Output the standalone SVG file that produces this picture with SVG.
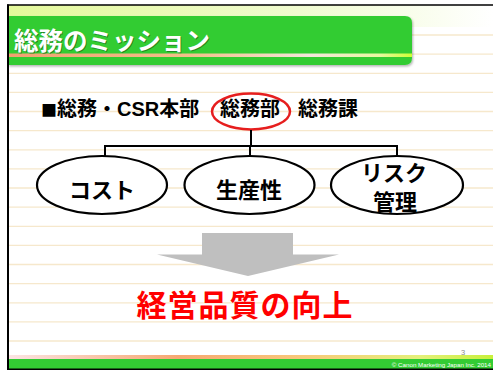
<svg xmlns="http://www.w3.org/2000/svg" width="493" height="370" viewBox="0 0 493 370">
  <defs>
    <linearGradient id="topBand" x1="0" y1="0" x2="1" y2="0">
      <stop offset="0" stop-color="#e4f99a"/>
      <stop offset="0.6" stop-color="#f0fbd0"/>
      <stop offset="1" stop-color="#ffffff"/>
    </linearGradient>
    <linearGradient id="titleStripe" x1="0" y1="0" x2="1" y2="0">
      <stop offset="0" stop-color="#f2a070"/>
      <stop offset="0.45" stop-color="#f3c08a"/>
      <stop offset="0.75" stop-color="#f4e6dc"/>
      <stop offset="0.92" stop-color="#e8f8a0"/>
      <stop offset="1" stop-color="#ccff33"/>
    </linearGradient>
    <linearGradient id="footStripe" x1="0" y1="0" x2="1" y2="0">
      <stop offset="0" stop-color="#fbe4e4"/>
      <stop offset="0.35" stop-color="#f6a872"/>
      <stop offset="0.6" stop-color="#f8c77a"/>
      <stop offset="0.85" stop-color="#e4f07a"/>
      <stop offset="1" stop-color="#c8f03a"/>
    </linearGradient>
    <filter id="shadow" x="-5%" y="-20%" width="110%" height="150%">
      <feDropShadow dx="1" dy="1.5" stdDeviation="1" flood-color="#000" flood-opacity="0.3"/>
    </filter>
  </defs>
  <style>
    .rule { stroke: #f6e8cc; stroke-width: 1.3; }
    .jp { font-family: "Noto Sans CJK JP", "Liberation Sans", sans-serif; font-weight: bold; }
    .lat { font-family: "Liberation Sans", "Noto Sans CJK JP", sans-serif; font-weight: bold; }
    .node { fill: #ffffff; stroke: #000000; stroke-width: 2.2; }
    .conn { fill: none; stroke: #000000; stroke-width: 2; }
    .lbl { font-size: 22px; fill: #000000; text-anchor: middle; }
  </style>

  <rect x="0" y="0" width="493" height="370" fill="#ffffff"/>

  <!-- ruled lines -->
  <g id="rules">
    <line class="rule" x1="9" y1="35" x2="493" y2="35"/>
    <line class="rule" x1="9" y1="54.1" x2="493" y2="54.1"/>
    <line class="rule" x1="9" y1="73.3" x2="493" y2="73.3"/>
    <line class="rule" x1="9" y1="92.4" x2="493" y2="92.4"/>
    <line class="rule" x1="9" y1="111.5" x2="493" y2="111.5"/>
    <line class="rule" x1="9" y1="130.6" x2="493" y2="130.6"/>
    <line class="rule" x1="9" y1="149.8" x2="493" y2="149.8"/>
    <line class="rule" x1="9" y1="168.9" x2="493" y2="168.9"/>
    <line class="rule" x1="9" y1="188" x2="493" y2="188"/>
    <line class="rule" x1="9" y1="207.1" x2="493" y2="207.1"/>
    <line class="rule" x1="9" y1="226.3" x2="493" y2="226.3"/>
    <line class="rule" x1="9" y1="245.4" x2="493" y2="245.4"/>
    <line class="rule" x1="9" y1="264.5" x2="493" y2="264.5"/>
    <line class="rule" x1="9" y1="283.6" x2="493" y2="283.6"/>
    <line class="rule" x1="9" y1="302.8" x2="493" y2="302.8"/>
    <line class="rule" x1="9" y1="321.9" x2="493" y2="321.9"/>
    <line class="rule" x1="9" y1="341" x2="493" y2="341"/>
  </g>

  <!-- header -->
  <g id="title">
    <rect x="8" y="5" width="485" height="22" fill="url(#topBand)"/>
    <path d="M8 16 H405 Q412 16 412 23 V58 Q412 65 405 65 H8 Z" fill="#33cc33" filter="url(#shadow)"/>
    <rect x="8" y="53.5" width="404" height="3.5" fill="url(#titleStripe)"/>
    <text x="15" y="51" class="jp" font-size="24.5" fill="#1a5a1a" opacity="0.6">総務のミッション</text>
    <text x="14" y="50" class="jp" font-size="24.5" fill="#ffffff">総務のミッション</text>
  </g>

  <!-- organisation line -->
  <g id="org">
    <text x="41" y="116" class="jp" font-size="20" fill="#000"><tspan font-size="16">■</tspan><tspan>総務・</tspan><tspan class="lat">CSR</tspan><tspan>本部</tspan></text>
    <text x="298" y="116" class="jp" font-size="20" fill="#000">総務課</text>
  </g>
  <g id="soumubu">
    <text x="220" y="116" class="jp" font-size="20" fill="#000">総務部</text>
    <ellipse cx="251" cy="111.5" rx="39" ry="18" fill="none" stroke="#e61e1e" stroke-width="2.5"/>
  </g>

  <!-- connectors -->
  <g id="connectors">
    <path class="conn" d="M251 130 V146"/>
    <path class="conn" d="M105 157 V146 H397 V157"/>
    <path class="conn" d="M250 146 V157"/>
  </g>

  <!-- nodes -->
  <g id="cost">
    <ellipse class="node" cx="102" cy="185" rx="65" ry="29"/>
    <text x="102" y="198" class="jp lbl">コスト</text>
  </g>
  <g id="productivity">
    <ellipse class="node" cx="249.5" cy="185" rx="65" ry="29"/>
    <text x="249" y="198" class="jp lbl">生産性</text>
  </g>
  <g id="risk">
    <ellipse class="node" cx="397" cy="185" rx="66" ry="29"/>
    <text x="394" y="181" class="jp lbl">リスク</text>
    <text x="395" y="210" class="jp lbl">管理</text>
  </g>

  <!-- arrow -->
  <g id="arrow">
    <polygon points="202,233 293,233 293,254.5 339,254.5 248,276 157,254.5 202,254.5" fill="#bfbfbf"/>
  </g>

  <!-- result -->
  <g id="result">
    <text x="245" y="316" class="jp" font-size="30" fill="#ff0000" text-anchor="middle" letter-spacing="1">経営品質の向上</text>
  </g>

  <!-- footer -->
  <g id="footer">
    <rect x="8" y="355" width="485" height="4" fill="url(#footStripe)"/>
    <rect x="8" y="359" width="485" height="10" fill="#33cc33"/>
    <text x="461" y="355" font-family="Liberation Sans, sans-serif" font-size="7.5" fill="#8a8a8a">3</text>
    <text x="491" y="367" font-family="Liberation Sans, sans-serif" font-size="6.2" fill="#ffffff" text-anchor="end">© Canon Marketing Japan Inc. 2014</text>
  </g>

  <!-- frame -->
  <g id="frame" fill="none" stroke="#000">
    <line x1="7" y1="5" x2="493" y2="5" stroke-width="1.5"/>
    <line x1="8" y1="4.5" x2="8" y2="370" stroke-width="2"/>
    <line x1="7" y1="369.3" x2="493" y2="369.3" stroke-width="1.5"/>
  </g>
</svg>
